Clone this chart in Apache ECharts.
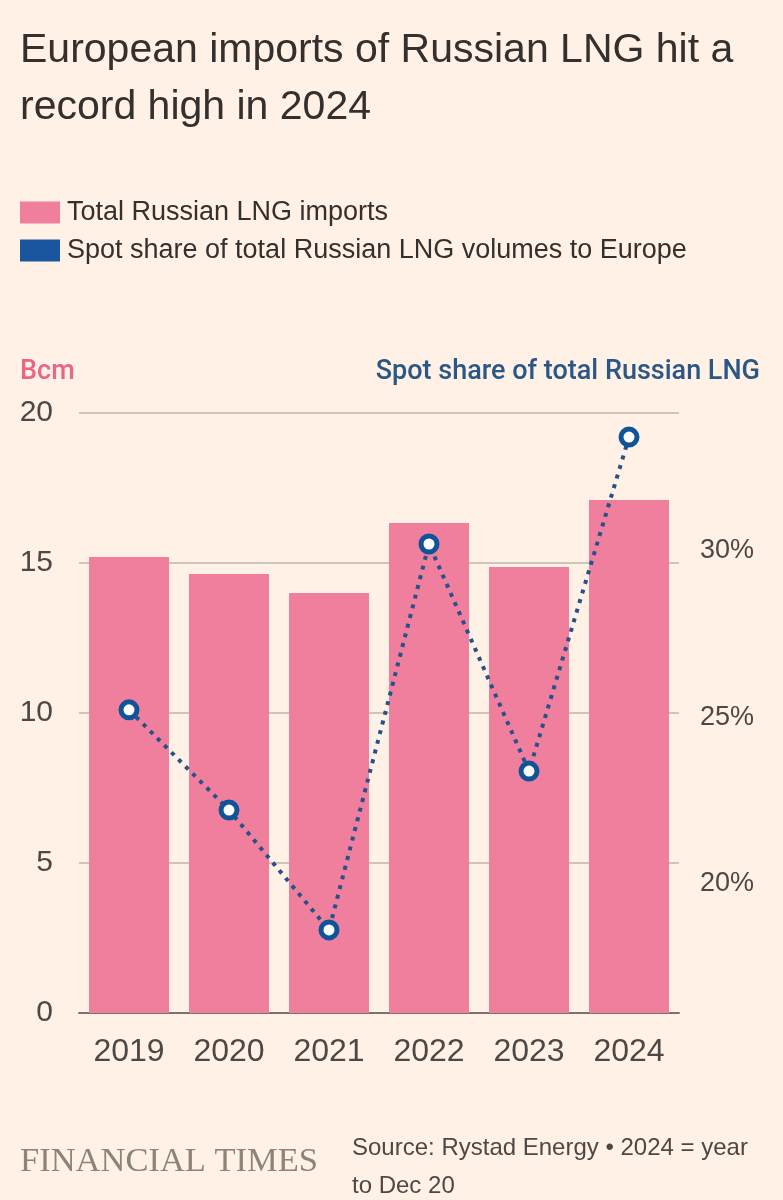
<!DOCTYPE html>
<html>
<head>
    <meta charset="utf-8">
    <title>European imports of Russian LNG</title>
    <script src="https://cdn.jsdelivr.net/npm/echarts@6/dist/echarts.min.js"></script>
    <style>
        html, body { margin: 0; padding: 0; background: #fff1e5; }
        #main { width: 783px; height: 1200px; }
    </style>
</head>
<body>
<div id="main"></div>
<script>
    // data
    var years = ['2019', '2020', '2021', '2022', '2023', '2024'];
    var importsBcm = [15.2, 14.63, 14.0, 16.33, 14.87, 17.1];
    var spotShare = [25.23, 22.22, 18.62, 30.21, 23.39, 33.42];
    var leftTicks = [0, 5, 10, 15, 20];
    var rightTicks = [20, 25, 30];

    var font = 'Liberation Sans';
    var ink = '#33302e';
    var labelInk = '#4d4845';
    var pink = '#f07e9d';
    var blue = '#0f5499';

    var chart = echarts.init(document.getElementById('main'));

    chart.setOption({
        backgroundColor: '#fff1e5',
        animation: false,
        title: [
            {
                text: 'European imports of Russian LNG hit a\nrecord high in 2024',
                left: 20, top: 22, padding: 0,
                textStyle: {fontFamily: font, fontSize: 41, fontWeight: 'normal', color: ink, lineHeight: 57}
            },
            {
                text: 'Bcm',
                left: 20, top: 359, padding: 0,
                textStyle: {fontFamily: 'Roboto', fontSize: 27, fontWeight: 500, color: '#e8668c'}
            },
            {
                text: 'Spot share of total Russian LNG',
                right: 23, top: 359, padding: 0,
                textStyle: {fontFamily: 'Roboto', fontSize: 27, fontWeight: 500, color: '#2a5786'}
            },
            {
                text: 'FINANCIAL TIMES',
                left: 20, top: 1144, padding: 0,
                textStyle: {fontFamily: 'Liberation Serif', fontSize: 34.5, fontWeight: 'normal', color: '#8c8379'}
            },
            {
                text: 'Source: Rystad Energy \u2022 2024 = year\nto Dec 20',
                left: 352, top: 1129, padding: 0,
                textStyle: {fontFamily: font, fontSize: 24, fontWeight: 'normal', color: labelInk, lineHeight: 38}
            }
        ],
        legend: {
            orient: 'vertical',
            left: 20, top: 199, padding: 0,
            itemWidth: 40, itemHeight: 22, itemGap: 11,
            textStyle: {fontFamily: font, fontSize: 27, color: ink, padding: [0, 0, 0, 2]},
            data: [
                {name: 'Total Russian LNG imports', icon: 'rect', itemStyle: {color: pink}},
                {name: 'Spot share of total Russian LNG volumes to Europe', icon: 'rect',
                    itemStyle: {color: '#1a56a0', borderWidth: 0}}
            ]
        },
        grid: {left: 79, right: 104, top: 413, bottom: 187, containLabel: false},
        xAxis: {
            type: 'category',
            data: years,
            axisLine: {lineStyle: {color: '#7a736c', width: 2}},
            axisTick: {alignWithLabel: true, length: 12, lineStyle: {color: '#8a837c', width: 2}},
            axisLabel: {fontFamily: font, fontSize: 32, color: labelInk, margin: 23}
        },
        yAxis: [
            {
                type: 'value',
                min: leftTicks[0], max: leftTicks[leftTicks.length - 1], interval: 5,
                axisLine: {show: false},
                axisTick: {show: false},
                axisLabel: {fontFamily: font, fontSize: 30, color: labelInk, margin: 26},
                splitLine: {lineStyle: {color: '#cec4ba', width: 2}}
            },
            {
                type: 'value',
                min: 16.126, max: 34.144,
                axisLine: {show: false},
                axisTick: {show: false},
                splitLine: {show: false},
                axisLabel: {
                    customValues: rightTicks,
                    fontFamily: font, fontSize: 27, color: labelInk, margin: 21,
                    formatter: function (v) { return v + '%'; }
                }
            }
        ],
        series: [
            {
                name: 'Total Russian LNG imports',
                type: 'bar',
                data: importsBcm,
                barCategoryGap: '20%',
                itemStyle: {color: pink},
                z: 1
            },
            {
                name: 'Spot share of total Russian LNG volumes to Europe',
                type: 'line',
                yAxisIndex: 1,
                data: spotShare,
                symbol: 'circle',
                symbolSize: 16,
                lineStyle: {color: '#26518a', width: 4, type: [4, 6]},
                itemStyle: {color: '#ffffff', borderColor: blue, borderWidth: 5},
                z: 3
            }
        ]
    });
</script>
</body>
</html>
